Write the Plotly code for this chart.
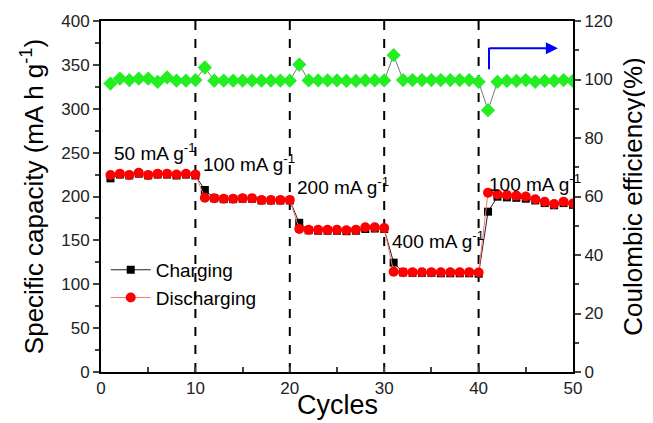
import plotly.graph_objects as go

cycles = list(range(1, 51))
charging = [220.7, 225, 224, 226, 224, 225, 225, 224, 225, 224,
            207.4, 198, 197, 197, 197.5, 197.5, 195.5, 195.5, 195.5, 195.5,
            170, 161.5, 161, 161, 161, 160.5, 161, 163, 163.5, 163,
            124.6, 113.5, 113, 113, 113, 112.5, 112.5, 112.5, 112.5, 112,
            182.7, 199.8, 199, 198.5, 197.5, 195.5, 192.5, 190, 192.5, 190.5]
discharging = [224.5, 226, 224.5, 227, 224.5, 226, 226, 225, 226, 225,
               198.6, 198, 197.5, 197.5, 198, 198, 196, 196, 196, 196,
               163, 162, 162, 162, 162, 161.5, 162, 165, 165, 164,
               114.3, 113.8, 113.6, 113.6, 113.6, 113.6, 113.6, 113.6, 113.8, 113.3,
               204.4, 202.5, 201.7, 201, 200, 196.8, 194, 191.5, 194, 192]
efficiency = [98.6, 100.3, 99.8, 100.3, 100.3, 99.2, 100.7, 99.6, 99.6, 99.8,
              104.1, 99.6, 99.6, 99.6, 99.6, 99.6, 99.6, 99.6, 99.6, 99.6,
              105.1, 99.7, 99.7, 99.7, 99.7, 99.5, 99.5, 99.7, 99.7, 99.7,
              108.3, 99.8, 99.8, 99.8, 99.8, 99.8, 99.8, 99.8, 99.8, 99.2,
              89.5, 99.2, 99.5, 99.5, 99.8, 99.2, 99.5, 99.5, 99.8, 99.5]
rate_boundaries = [10, 20, 30, 40]
rate_labels = ["50 mA g<sup>-1</sup>", "100 mA g<sup>-1</sup>", "200 mA g<sup>-1</sup>",
               "400 mA g<sup>-1</sup>", "100 mA g<sup>-1</sup>"]
label_x = [1.2, 10.6, 20.5, 30.6, 40.9]
label_y = [251, 238, 212, 150, 215]

FONT = "Liberation Sans, Arial, sans-serif"

fig = go.Figure()
fig.add_trace(go.Scatter(
    x=cycles, y=efficiency, yaxis="y2", mode="lines+markers", showlegend=False,
    line=dict(color="#777777", width=1),
    marker=dict(symbol="diamond", size=11, color="#22ee22")))
fig.add_trace(go.Scatter(
    x=cycles, y=charging, mode="lines+markers", name="Charging",
    line=dict(color="#222222", width=1),
    marker=dict(symbol="square", size=8, color="black")))
fig.add_trace(go.Scatter(
    x=cycles, y=discharging, mode="lines+markers", name="Discharging",
    line=dict(color="#ff7070", width=1),
    marker=dict(symbol="circle", size=10, color="#ff0000")))

for b in rate_boundaries:
    fig.add_shape(type="line", xref="x", yref="paper", x0=b, x1=b, y0=0, y1=1,
                  line=dict(color="black", width=2, dash="dash"), layer="below")

for t, xx, yy in zip(rate_labels, label_x, label_y):
    fig.add_annotation(x=xx, y=yy, text=t, showarrow=False, xanchor="left",
                       yanchor="middle", font=dict(family=FONT, size=19, color="black"))

# blue arrow pointing to right axis
fig.add_shape(type="line", xref="x", yref="y", x0=41.1, x1=41.1, y0=345, y1=369.5,
              line=dict(color="blue", width=2))
fig.add_annotation(x=48.4, y=369, ax=41.0, ay=369, xref="x", yref="y",
                   axref="x", ayref="y", text="", showarrow=True,
                   arrowhead=2, arrowsize=1.2, arrowwidth=2, arrowcolor="blue")

# x-axis title
fig.add_annotation(x=0.5, y=-0.095, xref="paper", yref="paper", text="Cycles",
                   showarrow=False, xanchor="center", yanchor="middle",
                   font=dict(family=FONT, size=27, color="black"))

fig.update_layout(
    width=645, height=415,
    margin=dict(l=93, r=80, t=13, b=51),
    paper_bgcolor="white", plot_bgcolor="white",
    font=dict(family=FONT, color="#222222"),
    xaxis=dict(range=[0, 50], dtick=10, ticks="inside", ticklen=5, tickwidth=1.5,
               minor=dict(dtick=5, ticks="inside", ticklen=5, tickwidth=1.5),
               showline=True, linecolor="black", linewidth=2, mirror=True,
               showgrid=False, zeroline=False, automargin=False,
               tickfont=dict(size=17)),
    yaxis=dict(range=[0, 400], dtick=50, ticks="outside", ticklen=6, tickwidth=1.5,
               minor=dict(dtick=25, ticks="outside", ticklen=4, tickwidth=1.5),
               showline=True, linecolor="black", linewidth=2,
               showgrid=False, zeroline=False, automargin=False,
               tickfont=dict(size=17),
               title=dict(text="Specific capacity (mA h g<sup>-1</sup>)",
                          font=dict(size=26, color="black"), standoff=10)),
    yaxis2=dict(range=[0, 120], dtick=20, overlaying="y", side="right",
                ticks="outside", ticklen=6, tickwidth=1.5,
                minor=dict(dtick=10, ticks="outside", ticklen=4, tickwidth=1.5),
                showline=True, linecolor="black", linewidth=2,
                showgrid=False, zeroline=False, automargin=False,
                tickfont=dict(size=17),
                title=dict(text="Coulombic efficiency(%)",
                           font=dict(size=26, color="black"), standoff=12)),
    legend=dict(x=0.01, y=0.345, xanchor="left", yanchor="top",
                bgcolor="rgba(0,0,0,0)", font=dict(size=19, color="black"),
                itemwidth=40, tracegroupgap=0),
)

fig.write_html("out.html")
